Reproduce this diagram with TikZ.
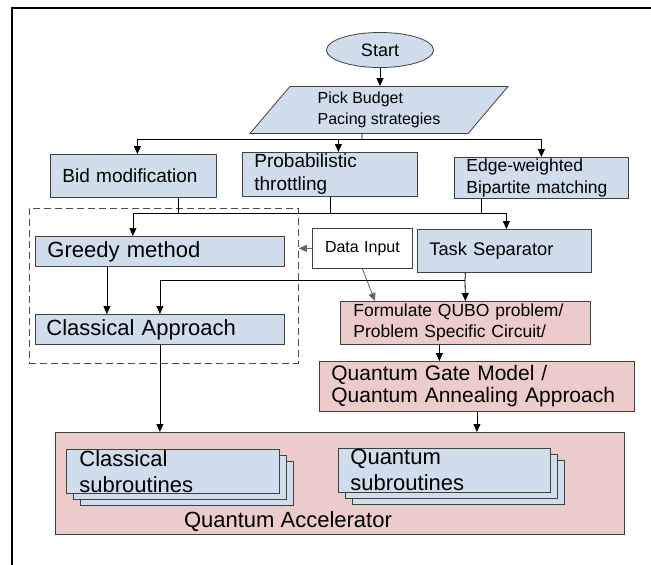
\documentclass[tikz,border=0pt]{standalone}
\usepackage{fontspec}
\setmainfont{Liberation Sans}
\usetikzlibrary{arrows.meta,shapes.geometric,shadows}
\definecolor{boxblue}{RGB}{207,221,237}
\definecolor{boxpink}{RGB}{236,204,203}
\definecolor{edgegrey}{RGB}{102,102,102}
\tikzset{
  base/.style={rectangle, draw=black!75, line width=0.8pt, inner ysep=0pt, align=left, anchor=north west},
  bluebox/.style={base, fill=boxblue},
  pinkbox/.style={base, fill=boxpink},
  link/.style={-{Triangle[length=8pt,width=7pt]}, line width=0.8pt},
  greylink/.style={-{Triangle[length=8pt,width=7pt]}, line width=0.8pt, draw=edgegrey},
}
\newcommand{\fs}[2]{\fontsize{#1}{#2}\selectfont}
\begin{document}
\begin{tikzpicture}[x=1pt,y=-1pt]
  \useasboundingbox (0,0) rectangle (651,565);
  \draw[line width=1.5pt] (651,8) -- (12,8) -- (12,565);

  \node[ellipse, draw=black!75, line width=0.8pt, fill=boxblue, minimum width=107pt,
        minimum height=35pt, inner sep=0pt, font=\fs{18}{20}] (start) at (380,50) {Start};
  \node[trapezium, trapezium left angle=42, trapezium right angle=138, trapezium stretches body,
        draw=black!75, line width=0.8pt, fill=boxblue, minimum width=258pt, minimum height=47pt,
        inner sep=0pt, align=left, font=\fs{16}{21}] (budget) at (379,110) {Pick Budget\\Pacing strategies};

  \node[bluebox, inner xsep=12pt, text width=142pt, minimum height=43pt, font=\fs{19}{23}] (bid) at (50,154) {Bid modification};
  \node[bluebox, inner xsep=12pt, text width=151pt, minimum height=44pt, font=\fs{19}{23}] (prob) at (242,152) {Probabilistic\\throttling};
  \node[bluebox, inner xsep=12pt, text width=150pt, minimum height=41pt, font=\fs{17.5}{22}] (edge) at (454,157) {Edge-weighted\\Bipartite matching};

  \node[base, draw=black!70, dash pattern=on 7pt off 4pt, minimum width=269pt, minimum height=155pt] (group) at (29,208) {};
  \node[bluebox, inner xsep=12pt, text width=225pt, minimum height=30pt, font=\fs{22}{24}] (greedy) at (35,236) {Greedy method};
  \node[bluebox, inner xsep=11pt, text width=227pt, minimum height=30pt, font=\fs{22}{24}] (classical) at (35,314) {Classical Approach};
  \node[base, fill=white, align=center, inner xsep=12pt, text width=76pt, minimum height=40pt, font=\fs{16}{18}] (data) at (312,228) {Data Input};
  \node[bluebox, inner xsep=12pt, text width=150pt, minimum height=43pt, font=\fs{18.3}{20}] (task) at (417,229) {Task Separator};
  \node[pinkbox, inner xsep=13pt, text width=224pt, minimum height=43pt, font=\fs{17.5}{21}] (form) at (340,301) {Formulate QUBO problem/\\Problem Specific Circuit/};
  \node[pinkbox, inner xsep=12pt, text width=291pt, minimum height=50pt, font=\fs{21}{22}] (gate) at (319,361) {Quantum Gate Model /\\Quantum Annealing Approach};

  \node[pinkbox, minimum width=569pt, minimum height=102pt] (accel) at (55,432) {};
  \node[bluebox, double copy shadow={shadow xshift=7pt, shadow yshift=-6pt}, inner xsep=13pt,
        text width=187pt, minimum height=44pt, font=\fs{22}{26}] (clsub) at (66,449) {Classical\\subroutines};
  \node[bluebox, double copy shadow={shadow xshift=7pt, shadow yshift=-6pt}, inner xsep=12pt,
        text width=188pt, minimum height=44pt, font=\fs{22}{26}] (qsub) at (338,448) {Quantum\\subroutines};
  \node[font=\fs{22}{24}] (acceltext) at (288,522) {Quantum Accelerator};

  % top fan-out
  \coordinate (fork1) at (362,139);
  \draw[link] (start.south) -- (start.south |- budget.north);
  \draw[line width=0.8pt] ([xshift=-17pt]budget.south) -- (fork1);
  \draw[link] (fork1) -| ([xshift=4pt]bid.north);
  \draw[link] (fork1) -| ([xshift=8.5pt]prob.north);
  \draw[link] (fork1) -| (edge.north);

  % strategies into methods
  \coordinate (fork2) at (331,213);
  \draw[line width=0.8pt] ([xshift=45pt]bid.south) -- ([xshift=45pt]bid.south |- fork2);
  \draw[line width=0.8pt] (prob.south) -- (prob.south |- fork2);
  \draw[line width=0.8pt] ([xshift=-60pt]edge.south) -- ([xshift=-60pt]edge.south |- fork2);
  \draw[link] (fork2) -| ([xshift=-27pt]greedy.north);
  \draw[link] (fork2) -| ([xshift=2pt]task.north);

  \draw[link] ([xshift=-53pt]greedy.south) -- ([xshift=-53pt]classical.north);
  \draw[greylink] (data.west) -- (data.west -| group.east);
  \draw[greylink] (data.south) -- ([xshift=35pt]form.north west);

  \coordinate (fork3) at (465,280);
  \draw[line width=0.8pt] ([xshift=-39pt]task.south) -- (fork3);
  \draw[link] (fork3) -- (form.north);
  \draw[link] (fork3) -| (classical.north);

  \draw[link] ([xshift=-26pt]form.south) -- ([xshift=-26pt]form.south |- gate.north);
  \draw[link] (classical.south) -- (classical.south |- accel.north);
  \draw[link] (gate.south) -- (gate.south |- accel.north);
\end{tikzpicture}
\end{document}
